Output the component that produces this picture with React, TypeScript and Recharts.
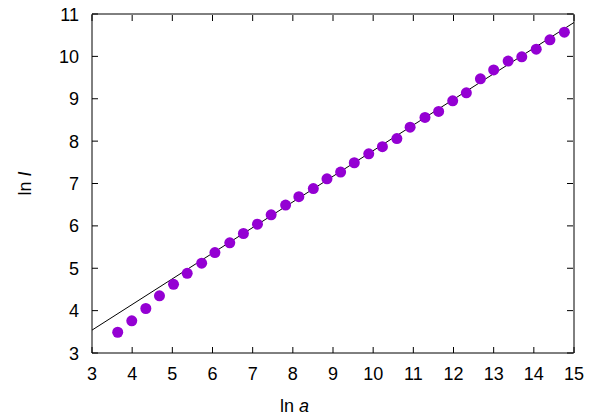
import { ComposedChart, Scatter, Line, XAxis, YAxis } from 'recharts'

// ln a values of the measured points
const lnA = [
  3.64, 3.99, 4.34, 4.68, 5.03, 5.37, 5.73, 6.06, 6.43, 6.77, 7.12, 7.46, 7.82, 8.15, 8.51, 8.85, 9.19,
  9.53, 9.89, 10.23, 10.59, 10.92, 11.29, 11.63, 11.98, 12.32, 12.67, 13.0, 13.36, 13.7, 14.06, 14.4, 14.76,
]
// ln I values of the measured points
const lnI = [
  3.49, 3.76, 4.05, 4.35, 4.62, 4.88, 5.12, 5.37, 5.6, 5.82, 6.04, 6.26, 6.49, 6.69, 6.88, 7.11, 7.27,
  7.49, 7.7, 7.87, 8.06, 8.33, 8.56, 8.7, 8.95, 9.14, 9.47, 9.68, 9.89, 9.99, 10.17, 10.39, 10.57,
]
// straight fit line end points
const fitA = [3, 15]
const fitI = [3.54, 10.8]

const xTicks = [3, 4, 5, 6, 7, 8, 9, 10, 11, 12, 13, 14, 15]
const yTicks = [3, 4, 5, 6, 7, 8, 9, 10, 11]

const points = lnA.map((x, i) => ({ x, y: lnI[i] }))
const fit = fitA.map((x, i) => ({ x, y: fitI[i] }))

const FONT = '"Liberation Sans", Arial, sans-serif'
const TICK = 6

function BottomTick({ x, y, payload }: any) {
  return (
    <g>
      <line x1={x} y1={y} x2={x} y2={y - TICK} stroke="#000" />
      <text x={x} y={y + 27} textAnchor="middle" fontSize={18} fontFamily={FONT} fill="#000">
        {payload.value}
      </text>
    </g>
  )
}

function LeftTick({ x, y, payload }: any) {
  return (
    <g>
      <line x1={x} y1={y} x2={x + TICK} y2={y} stroke="#000" />
      <text x={x - 13} y={y + 6.5} textAnchor="end" fontSize={18} fontFamily={FONT} fill="#000">
        {payload.value}
      </text>
    </g>
  )
}

function TopTick({ x, y }: any) {
  return <line x1={x} y1={y + 1} x2={x} y2={y + 1 + TICK} stroke="#000" />
}

function RightTick({ x, y }: any) {
  return <line x1={x - 1} y1={y} x2={x - 1 - TICK} y2={y} stroke="#000" />
}

function Dot({ cx, cy }: any) {
  return <circle cx={cx} cy={cy} r={5.5} fill="#9400D3" />
}

export default function App() {
  return (
    <div style={{ position: 'absolute', left: 0, top: 0, width: 589, height: 415, background: '#fff' }}>
      <ComposedChart width={589} height={415} margin={{ top: 13, right: 14, bottom: 0, left: 0 }}>
        <XAxis
          dataKey="x"
          type="number"
          domain={[3, 15]}
          ticks={xTicks}
          allowDataOverflow
          height={62}
          tickSize={0}
          tickMargin={0}
          tickLine={false}
          axisLine={{ stroke: '#000' }}
          tick={<BottomTick />}
          interval={0}
          label={{
            content: () => (
              <text x={294.5} y={412} textAnchor="middle" fontSize={18} fontFamily={FONT} fill="#000">
                ln <tspan fontStyle="italic">a</tspan>
              </text>
            ),
          }}
        />
        <XAxis
          xAxisId="top"
          orientation="top"
          dataKey="x"
          type="number"
          domain={[3, 15]}
          ticks={xTicks}
          allowDataOverflow
          height={1}
          tickSize={0}
          tickMargin={0}
          tickLine={false}
          axisLine={{ stroke: '#000' }}
          tick={<TopTick />}
          interval={0}
        />
        <YAxis
          dataKey="y"
          type="number"
          domain={[3, 11]}
          ticks={yTicks}
          allowDataOverflow
          width={92}
          tickSize={0}
          tickMargin={0}
          tickLine={false}
          axisLine={{ stroke: '#000' }}
          tick={<LeftTick />}
          interval={0}
          label={{
            content: () => (
              <text
                x={25}
                y={183.5}
                transform="rotate(-90 25 183.5)"
                textAnchor="middle"
                dominantBaseline="central"
                fontSize={18}
                fontFamily={FONT}
                fill="#000"
              >
                ln <tspan fontStyle="italic">I</tspan>
              </text>
            ),
          }}
        />
        <YAxis
          yAxisId="right"
          orientation="right"
          dataKey="y"
          type="number"
          domain={[3, 11]}
          ticks={yTicks}
          allowDataOverflow
          width={1}
          tickSize={0}
          tickMargin={0}
          tickLine={false}
          axisLine={{ stroke: '#000' }}
          tick={<RightTick />}
          interval={0}
        />
        <Scatter data={points} shape={<Dot />} isAnimationActive={false} />
        <Line
          data={fit}
          dataKey="y"
          type="linear"
          stroke="#000"
          strokeWidth={1}
          dot={false}
          activeDot={false}
          isAnimationActive={false}
        />
      </ComposedChart>
    </div>
  )
}
